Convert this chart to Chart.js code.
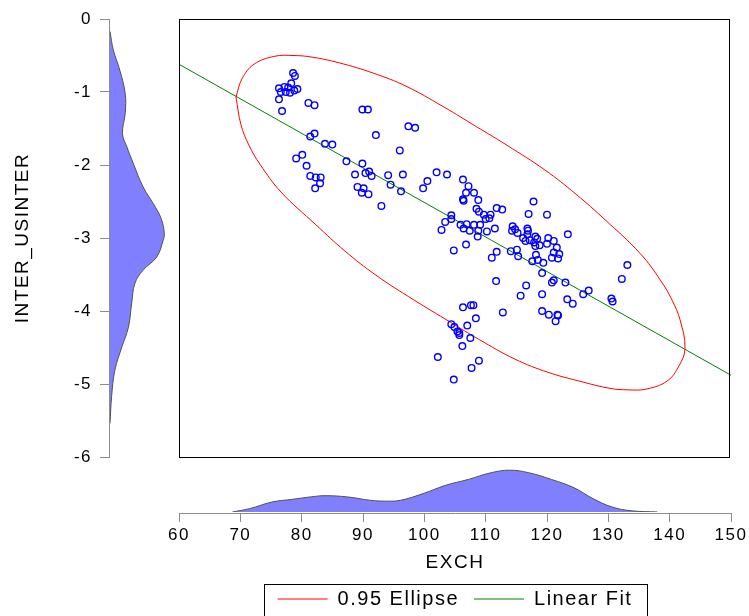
<!DOCTYPE html>
<html>
<head>
<meta charset="utf-8">
<title>EXCH / INTER_USINTER</title>
<script src="https://cdn.jsdelivr.net/npm/chart.js@4.4.1/dist/chart.umd.min.js"></script>
<style>
  html, body { margin: 0; padding: 0; background: #fff; }
  #wrap { position: relative; width: 749px; height: 616px; overflow: hidden; }
  #wrap canvas { position: absolute; }
  #main { left: 0; top: 0; }
  #densY { left: 110px; top: 19px; }
  #densX { left: 179px; top: 466px; }
</style>
</head>
<body>
<div id="wrap">
  <canvas id="main" width="749" height="616"></canvas>
  <canvas id="densY" width="60" height="438"></canvas>
  <canvas id="densX" width="552" height="46"></canvas>
</div>
<script>
// scatter: EXCH (x) vs INTER_USINTER (y)
const exch = [
  78.6, 78.9, 78.3, 76.3, 77.2, 77.8, 79.3, 76.6, 77.4, 78.1, 78.8, 76.3, 76.8, 81.1, 82.1,
  89.9, 90.8, 82.1, 81.4, 83.8, 85.0, 92.1, 97.4, 98.5, 96.0, 80.1, 79.1, 80.8, 87.3, 89.9,
  81.4, 82.3, 83.1, 83.0, 82.2, 88.7, 90.4, 91.0, 91.4, 89.1, 90.1, 89.8, 90.9, 94.1, 96.5,
  94.5, 96.2, 93.0, 102.0, 103.7, 100.5, 99.8, 106.3, 107.2, 106.8, 108.1, 106.3, 106.4, 108.8, 108.5,
  108.9, 109.7, 110.8, 110.6, 110.0, 111.8, 112.7, 117.8, 117.0, 120.0, 104.4, 104.4, 103.4, 102.8, 105.9,
  106.4, 106.9, 107.4, 108.1, 108.8, 109.1, 108.7, 110.2, 111.5, 106.8, 104.8, 114.4, 114.8, 114.3, 115.2,
  116.8, 116.9, 116.8, 116.1, 116.5, 117.2, 118.1, 118.4, 117.9, 118.8, 118.1, 120.2, 121.1, 120.0, 121.6,
  123.4, 115.1, 114.1, 115.3, 111.0, 111.8, 118.2, 121.1, 122.0, 120.8, 121.8, 117.6, 118.5, 119.4, 119.2,
  133.1, 132.2, 111.7, 121.1, 120.8, 123.0, 116.6, 115.7, 119.2, 126.8, 125.9, 123.3, 124.2, 130.5, 130.7,
  119.2, 120.3, 121.7, 121.8, 121.4, 112.8, 106.3, 107.6, 108.0, 108.4, 104.4, 104.9, 107.0, 105.4, 105.7,
  105.7, 107.5, 106.2, 102.2, 108.9, 107.7, 104.8
];
const interUs = [
  -0.74, -0.78, -0.88, -0.95, -0.93, -0.94, -0.96, -1.00, -1.00, -1.01, -0.98, -1.10, -1.26, -1.15, -1.18,
  -1.24, -1.24, -1.57, -1.61, -1.71, -1.72, -1.59, -1.47, -1.49, -1.80, -1.86, -1.91, -2.01, -1.95, -1.98,
  -2.15, -2.17, -2.17, -2.25, -2.32, -2.13, -2.11, -2.09, -2.15, -2.30, -2.32, -2.38, -2.40, -2.14, -2.13,
  -2.27, -2.36, -2.56, -2.10, -2.13, -2.22, -2.32, -2.20, -2.29, -2.38, -2.38, -2.47, -2.49, -2.48, -2.60,
  -2.64, -2.68, -2.68, -2.73, -2.74, -2.59, -2.61, -2.50, -2.67, -2.68, -2.69, -2.74, -2.78, -2.89, -2.82,
  -2.87, -2.81, -2.90, -2.82, -2.90, -2.82, -2.98, -2.91, -2.87, -3.09, -3.17, -2.84, -2.88, -2.90, -2.93,
  -2.87, -2.90, -2.95, -3.00, -3.04, -3.03, -2.98, -3.01, -3.06, -3.10, -3.11, -3.00, -3.04, -3.08, -3.13,
  -2.95, -3.16, -3.18, -3.25, -3.27, -3.19, -3.23, -3.20, -3.22, -3.27, -3.28, -3.32, -3.30, -3.34, -3.48,
  -3.37, -3.56, -3.59, -3.58, -3.61, -3.61, -3.65, -3.79, -3.77, -3.72, -3.77, -3.84, -3.90, -3.83, -3.87,
  -4.00, -4.05, -4.05, -4.06, -4.14, -4.02, -3.95, -3.92, -3.92, -4.10, -4.18, -4.22, -4.20, -4.28, -4.30,
  -4.33, -4.37, -4.48, -4.63, -4.68, -4.78, -4.94
];

// 0.95 ellipse (closed loop)
const ellipseX = [69.29, 70.11, 71.41, 73.21, 76.63, 82.34, 87.07, 92.12, 98.32, 104.19, 108.92, 114.79, 120.17,
  125.71, 130.28, 133.21, 136.15, 139.57, 141.53, 142.50, 141.69, 140.38, 138.59, 135.17, 129.46, 124.73,
  119.68, 113.48, 107.61, 102.88, 97.01, 91.63, 86.09, 81.52, 78.59, 75.65, 72.23, 70.27, 69.29];
const ellipseY = [-1.07, -1.45, -1.73, -1.99, -2.37, -2.82, -3.18, -3.51, -3.85, -4.15, -4.39, -4.66, -4.84,
  -4.97, -5.06, -5.08, -5.07, -4.96, -4.75, -4.51, -4.12, -3.85, -3.59, -3.21, -2.75, -2.40,
  -2.07, -1.73, -1.43, -1.19, -0.92, -0.74, -0.60, -0.52, -0.50, -0.51, -0.62, -0.82, -1.07];

// linear fit
const fitX = [60, 150];
const fitY = [-0.62, -4.88];

// marginal density of EXCH (relative height)
const densExchX = [68.7, 71.5, 75.2, 78.3, 81.4, 83.8, 87.5, 91.2, 93.7, 96.1, 99.8, 103.5, 107.2, 110.9, 113.9,
  117.0, 120.7, 124.4, 127.5, 130.6, 133.7, 138.0];
const densExchVal = [0, 0.08, 0.24, 0.30, 0.36, 0.39, 0.36, 0.28, 0.26, 0.28, 0.44, 0.64, 0.78, 0.94, 1.0,
  0.94, 0.78, 0.58, 0.32, 0.12, 0.03, 0];

// marginal density of INTER_USINTER (relative width)
const densInterY = [-0.17, -0.42, -0.70, -1.02, -1.29, -1.57, -1.75, -1.98, -2.30, -2.57, -2.75, -2.94, -3.03,
  -3.26, -3.44, -3.62, -3.89, -4.22, -4.49, -4.81, -5.17, -5.54];
const densInterVal = [0, 0.06, 0.18, 0.28, 0.28, 0.23, 0.31, 0.43, 0.61, 0.83, 0.95, 1.0, 0.98,
  0.86, 0.61, 0.46, 0.40, 0.34, 0.22, 0.09, 0.03, 0];

const xTicks = [60, 70, 80, 90, 100, 110, 120, 130, 140, 150];
const yTicks = [0, -1, -2, -3, -4, -5, -6];

Chart.defaults.font.family = '"Liberation Sans", Arial, sans-serif';
Chart.defaults.color = '#000';

const axisGrey = '#8c8c8c';

// text in the picture is a bit wider than plain Arial
const spacing = {
  id: 'spacing',
  beforeUpdate(chart) { chart.ctx.letterSpacing = '1.5px'; },
  beforeDraw(chart) { chart.ctx.letterSpacing = '1.5px'; }
};

// black frame round the plot area
const frame = {
  id: 'frame',
  afterDatasetsDraw(chart) {
    const a = chart.chartArea;
    const ctx = chart.ctx;
    ctx.save();
    ctx.strokeStyle = '#000';
    ctx.lineWidth = 1;
    ctx.strokeRect(Math.round(a.left) + 0.5, Math.round(a.top) + 0.5,
      Math.round(a.right - a.left) - 2, Math.round(a.bottom - a.top));
    ctx.restore();
  }
};

// box round the legend
const legendFrame = {
  id: 'legendFrame',
  afterDraw(chart) {
    const hb = chart.legend.legendHitBoxes;
    if (!hb || !hb.length) return;
    const first = hb[0], last = hb[hb.length - 1];
    const ctx = chart.ctx;
    ctx.save();
    ctx.strokeStyle = '#000';
    ctx.lineWidth = 1;
    const x0 = Math.round(first.left - 14) + 0.5;
    const x1 = Math.round(last.left + last.width + 15) + 0.5;
    const y0 = Math.round(first.top - 5) + 0.5;
    ctx.strokeRect(x0, y0, x1 - x0, 60);
    ctx.restore();
  }
};

new Chart(document.getElementById('main'), {
  type: 'scatter',
  data: {
    datasets: [
      {
        label: 'INTER_USINTER',
        data: exch.map((x, i) => ({x: x, y: interUs[i]})),
        borderColor: '#0000FF',
        backgroundColor: 'rgba(0,0,0,0)',
        borderWidth: 1.4,
        pointRadius: 3.3
      },
      {
        type: 'line',
        label: '0.95 Ellipse',
        data: ellipseX.map((x, i) => ({x: x, y: ellipseY[i]})),
        borderColor: '#FF0000',
        borderWidth: 1,
        pointRadius: 0,
        tension: 0.4,
        fill: false
      },
      {
        type: 'line',
        label: 'Linear Fit',
        data: fitX.map((x, i) => ({x: x, y: fitY[i]})),
        borderColor: '#008000',
        borderWidth: 1,
        pointRadius: 0,
        fill: false
      }
    ]
  },
  options: {
    responsive: false,
    animation: false,
    devicePixelRatio: 1,
    layout: { padding: { top: 19, right: 18, left: 0, bottom: -3 } },
    plugins: {
      tooltip: { enabled: false },
      legend: {
        position: 'bottom',
        fullSize: false,
        align: 'center',
        labels: {
          filter: item => item.datasetIndex > 0,
          usePointStyle: true,
          pointStyle: 'line',
          pointStyleWidth: 50,
          padding: 15,
          font: { size: 20 }
        }
      }
    },
    scales: {
      x: {
        type: 'linear',
        position: 'bottom',
        weight: 1,
        min: 60,
        max: 150,
        afterBuildTicks: s => { s.ticks = xTicks.map(v => ({value: v})); },
        afterFit: s => { s.height = 61; s.paddingLeft = 0; s.paddingRight = 0; },
        grid: { drawOnChartArea: false, tickLength: 9, color: axisGrey },
        border: { color: axisGrey },
        ticks: { padding: 3, font: { size: 17 }, maxRotation: 0 },
        title: { display: true, text: 'EXCH', font: { size: 19 }, padding: { top: 4, bottom: 0 } }
      },
      xs: {
        type: 'linear',
        axis: 'x',
        position: 'bottom',
        weight: 0,
        min: 0,
        max: 1,
        afterFit: s => { s.height = 56; },
        grid: { display: false },
        border: { display: false },
        ticks: { display: false }
      },
      y: {
        type: 'linear',
        position: 'left',
        weight: 1,
        min: -6,
        max: 0,
        afterBuildTicks: s => { s.ticks = yTicks.map(v => ({value: v})); },
        afterFit: s => { s.width = 109; },
        grid: { drawOnChartArea: false, tickLength: 9, color: axisGrey },
        border: { color: axisGrey },
        ticks: { padding: 8, font: { size: 17 } },
        title: { display: true, text: 'INTER_USINTER', font: { size: 19 }, padding: { top: 11, bottom: 4 } }
      },
      ys: {
        type: 'linear',
        axis: 'y',
        position: 'left',
        weight: 0,
        min: 0,
        max: 1,
        afterFit: s => { s.width = 70; },
        grid: { display: false },
        border: { display: false },
        ticks: { display: false }
      }
    }
  },
  plugins: [spacing, frame, legendFrame]
});

// left marginal density
new Chart(document.getElementById('densY'), {
  type: 'line',
  data: {
    datasets: [{
      data: densInterY.map((y, i) => ({x: densInterVal[i], y: y})),
      indexAxis: 'y',
      borderColor: '#505050',
      borderWidth: 1,
      backgroundColor: '#8080FF',
      fill: { value: 0 },
      pointRadius: 0,
      tension: 0.4
    }]
  },
  options: {
    indexAxis: 'y',
    responsive: false,
    animation: false,
    devicePixelRatio: 1,
    layout: { padding: 0 },
    plugins: { legend: { display: false }, tooltip: { enabled: false } },
    scales: {
      x: { type: 'linear', min: 0, max: 1.105, display: false },
      y: { type: 'linear', min: -6, max: 0, display: false }
    }
  }
});

// bottom marginal density
new Chart(document.getElementById('densX'), {
  type: 'line',
  data: {
    datasets: [{
      data: densExchX.map((x, i) => ({x: x, y: densExchVal[i]})),
      borderColor: '#505050',
      borderWidth: 1,
      backgroundColor: '#8080FF',
      fill: { value: 0 },
      pointRadius: 0,
      tension: 0.4
    }]
  },
  options: {
    responsive: false,
    animation: false,
    devicePixelRatio: 1,
    layout: { padding: 0 },
    plugins: { legend: { display: false }, tooltip: { enabled: false } },
    scales: {
      x: { type: 'linear', min: 60, max: 150, display: false },
      y: { type: 'linear', min: 0, max: 1.1, display: false }
    }
  }
});
</script>
</body>
</html>
